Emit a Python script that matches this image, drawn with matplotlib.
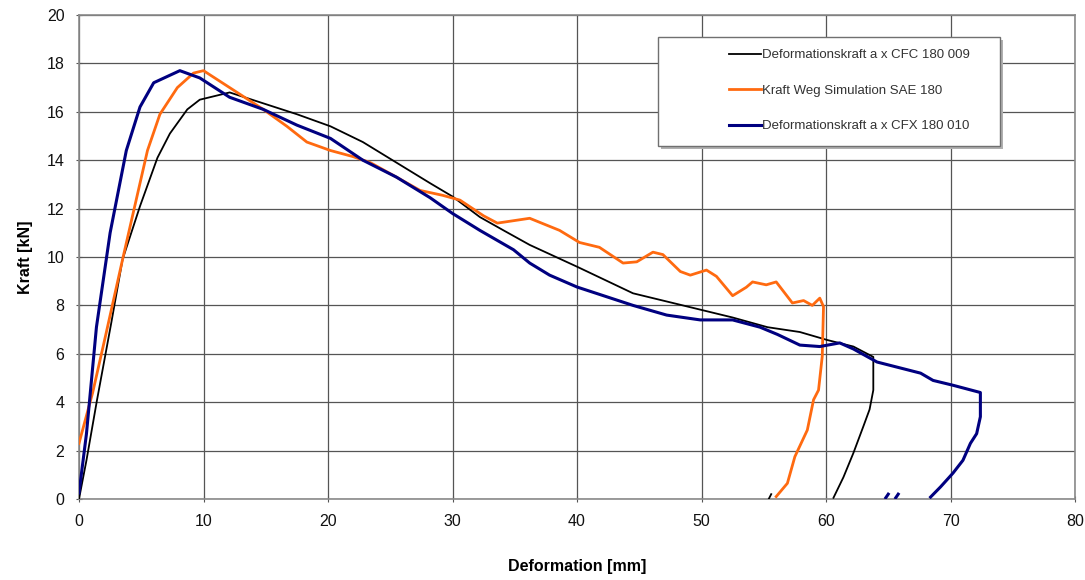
import matplotlib.pyplot as plt
from matplotlib.patches import Rectangle

plt.rcParams['font.family'] = ['Liberation Sans', 'DejaVu Sans']

# Deformationskraft a x CFC 180 009
cfc_x = [0, 0.6, 1.45, 2.6, 3.5, 4.9, 6.3, 7.3, 8.7, 9.7, 12.1, 14.8, 17.5,
         20.2, 22.8, 25.5, 28.2, 30, 32.2, 34.1, 36.2, 40, 44.5, 50.1, 52.5,
         55.3, 57.9, 60.1, 62.2, 63.8, 63.8, 63.5, 63.0, 62.2, 61.4, 60.6]
cfc_y = [0, 1.6, 4.1, 7.3, 9.9, 12.1, 14.1, 15.1, 16.1, 16.5, 16.8, 16.35, 15.9,
         15.4, 14.75, 13.9, 13.05, 12.5, 11.65, 11.1, 10.5, 9.6, 8.5, 7.8, 7.5,
         7.1, 6.9, 6.57, 6.3, 5.87, 4.5, 3.7, 3.0, 1.9, 0.9, 0.05]

# Kraft Weg Simulation SAE 180
sae_x = [0, 1.1, 2.2, 3.5, 4.7, 5.5, 6.5, 7.9, 9.2, 10.0, 12.1, 14.8, 16.7, 18.3,
         20.2, 22.0, 23.4, 25.5, 27.4, 29.2, 30.6, 32.5, 33.6, 36.2, 38.6, 40.2,
         41.8, 43.7, 44.8, 46.1, 46.9, 48.3, 49.1, 50.4, 51.2, 52.5, 53.6, 54.1,
         55.2, 56.0, 57.3, 58.2, 58.9, 59.5, 59.8, 59.7, 59.4, 59.0, 58.5, 57.5,
         56.9, 56.0]
sae_y = [2.3, 4.4, 6.9, 9.9, 12.6, 14.4, 15.9, 17.0, 17.6, 17.7, 17.0, 16.1, 15.4, 14.75,
         14.4, 14.15, 13.9, 13.3, 12.75, 12.55, 12.35, 11.7, 11.4, 11.6, 11.1, 10.6,
         10.4, 9.75, 9.8, 10.2, 10.1, 9.4, 9.25, 9.46, 9.2, 8.4, 8.75, 8.97,
         8.85, 8.97, 8.1, 8.2, 8.0, 8.3, 7.95, 5.9, 4.5, 4.1, 2.85, 1.75,
         0.65, 0.1]

# Deformationskraft a x CFX 180 010
cfx_x = [0, 0.6, 1.4, 2.5, 3.8, 4.9, 6.0, 8.1, 9.7, 12.1, 14.8, 17.5, 20.2, 22.8,
         25.5, 28.2, 30, 32.2, 34.9, 36.2, 37.8, 40, 44.5, 47.2, 49.9, 52.5,
         54.7, 56.1, 57.9, 59.5, 61.1, 62.2, 64.1, 67.6, 68.6, 70.2, 72.4, 72.4,
         72.1, 71.6, 71.0, 70.2, 69.2, 68.4]
cfx_y = [0.25, 2.7, 7.1, 11.0, 14.4, 16.2, 17.2, 17.7, 17.4, 16.6, 16.1, 15.45, 14.9, 14.0,
         13.3, 12.45, 11.8, 11.1, 10.3, 9.75, 9.25, 8.76, 8.0, 7.6, 7.4, 7.4,
         7.1, 6.8, 6.36, 6.3, 6.45, 6.2, 5.66, 5.2, 4.9, 4.7, 4.4, 3.4,
         2.7, 2.3, 1.6, 1.07, 0.5, 0.08]

# small leftover bits near the x axis
cfc_tail_x = [55.4, 55.6]
cfc_tail_y = [0.0, 0.2]
cfx_tail_x = [64.8, 65.0, 65.6, 65.8]
cfx_tail_y = [0.05, 0.2, 0.05, 0.2]

labels = ['Deformationskraft a x CFC 180 009', 'Kraft Weg Simulation SAE 180',
          'Deformationskraft a x CFX 180 010']

fig = plt.figure(figsize=(10.85, 5.8), dpi=100)
ax = fig.add_axes([79 / 1085, 1 - 499 / 580, 996 / 1085, 484 / 580])

ax.plot(cfc_x, cfc_y, color='#000000', lw=1.3, label=labels[0], zorder=3)
ax.plot(sae_x, sae_y, color='#ff6a10', lw=2.0, label=labels[1], zorder=3)
ax.plot(cfx_x, cfx_y, color='#000080', lw=2.2, label=labels[2], zorder=3)
ax.plot(cfc_tail_x, cfc_tail_y, color='#000000', lw=1.3, zorder=3)
ax.plot(cfx_tail_x[:2], cfx_tail_y[:2], color='#000080', lw=2.2, zorder=3)
ax.plot(cfx_tail_x[2:], cfx_tail_y[2:], color='#000080', lw=2.2, zorder=3)

ax.set_xlim(0, 80)
ax.set_ylim(0, 20)
ax.set_xticks(range(0, 81, 10))
ax.set_yticks(range(0, 21, 2))
ax.grid(True, color='#555555', lw=0.9)
ax.set_axisbelow(True)
for s in ax.spines.values():
    s.set_color('#8a8a8a')
    s.set_linewidth(1.2)
ax.tick_params(direction='inout', length=5, color='#555555', labelsize=11.5,
               labelcolor='#111111', pad=8)
ax.set_xlabel('Deformation [mm]', fontsize=11.5, fontweight='bold', labelpad=22)
ax.set_ylabel('Kraft [kN]', fontsize=11.5, fontweight='bold', labelpad=10)

# legend box with shadow
x0, y0 = (658 - 79) / 996, (499 - 146) / 484
w, h = 342 / 996, 109 / 484
ax.add_patch(Rectangle((x0 + 0.003, y0 - 0.006), w, h, transform=ax.transAxes,
                       facecolor='#b0b0b0', edgecolor='none', zorder=4))
ax.add_patch(Rectangle((x0, y0), w, h, transform=ax.transAxes,
                       facecolor='white', edgecolor='#707070', lw=1.0, zorder=5))
leg = ax.legend(loc='upper left', bbox_to_anchor=((720 - 79) / 996, (499 - 40) / 484),
                frameon=False, fontsize=9.5, handlelength=2.4, handletextpad=0.1,
                labelspacing=1.75, borderpad=0.2)
leg.set_zorder(6)
for t in leg.get_texts():
    t.set_color('#333333')

fig.savefig('out.png', dpi=100)
